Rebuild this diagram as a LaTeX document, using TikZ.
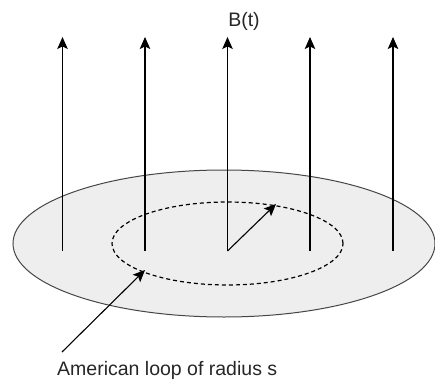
\documentclass[tikz,border=0pt]{standalone}
\usepackage{fontspec}
\setmainfont{Liberation Sans}
\usetikzlibrary{arrows.meta, shapes.geometric, positioning}
\definecolor{diskgray}{RGB}{238, 238, 238}
\definecolor{rimgray}{RGB}{70, 70, 70}

\begin{document}
\begin{tikzpicture}[x=1pt, y=-1pt,
		fieldvec/.style={-{Stealth[length=12pt, width=10.5pt, inset=2.5pt]}, black, line width=1.1pt},
		radvec/.style={-{Stealth[length=12pt, width=10.5pt, inset=2.5pt]}, black, line width=1.1pt},
		disk/.style={ellipse, draw=rimgray, fill=diskgray, line width=1pt,
			inner sep=0pt, outer sep=0pt, minimum width=422pt, minimum height=147pt},
		loopring/.style={ellipse, draw=black, dash pattern=on 4pt off 3pt, line width=1.2pt,
			inner sep=0pt, outer sep=0pt, minimum width=231pt, minimum height=83pt},
		lbl/.style={font=\fontsize{19.5}{23}\selectfont, text=black!85, inner sep=0pt}]
	\useasboundingbox (0,0) rectangle (435,379);
	%--- disk and loop ---
	\node[disk] (plate) at (224,243.5) {};
	\node[loopring] (ring) at (227.5,243.5) {};
	%--- field lines ---
	\foreach \fx [count=\i] in {62.5,145,227.5,310,393} {
		\coordinate (foot\i) at (\fx,251);
		\coordinate (head\i) at (\fx,37);
		\draw[fieldvec] (foot\i) -- (head\i);
	}
	\node[lbl] (bt) at (244,21) {B(t)};
	%--- radius ---
	\coordinate (rtip) at (276,204);
	\draw[radvec] (foot3) -- (rtip);
	%--- caption ---
	\node[lbl, anchor=base west] (cap) at (57,375) {American loop of radius s};
	\coordinate (capfoot) at (62,352);
	\coordinate (ringpt) at (145,270);
	\draw[radvec] (capfoot) -- (ringpt);
\end{tikzpicture}
\end{document}
